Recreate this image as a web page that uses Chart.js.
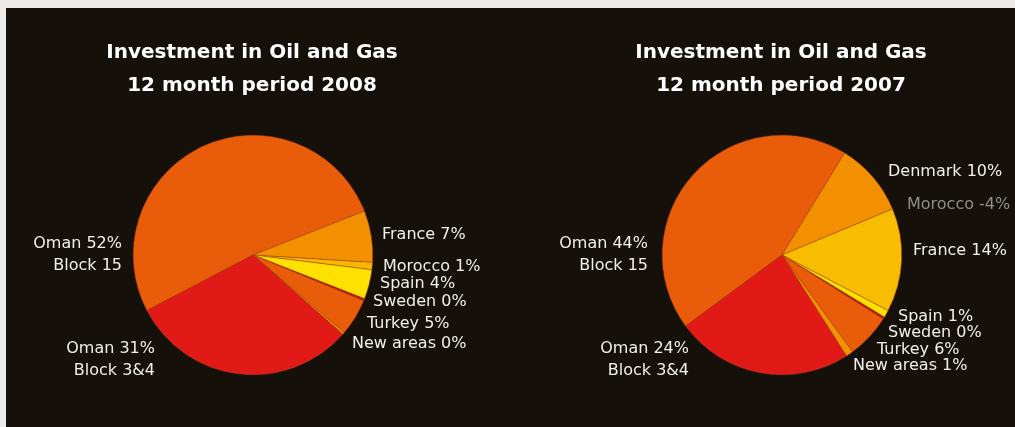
<!DOCTYPE html>
<html>
<head>
<meta charset="utf-8">
<script src="https://cdn.jsdelivr.net/npm/chart.js@4"></script>
<style>
  body { margin: 0; background: #ecebe8; width: 1015px; height: 427px; overflow: hidden; position: relative; }
  .panel { position: absolute; left: 6px; top: 8px; width: 1009px; height: 419px; background: #15110a; }
  canvas { position: absolute; top: 8px; }
  #pie2008 { left: 6px; }
  #pie2007 { left: 510px; }
</style>
</head>
<body>
<div class="panel"></div>
<canvas id="pie2008" width="504" height="419"></canvas>
<canvas id="pie2007" width="505" height="419"></canvas>
<script>
'use strict';

// 2008, clockwise from the Oman Block 15 slice
const names2008 = ['Oman', 'France', 'Morocco', 'Spain', 'Sweden', 'Turkey', 'New areas', 'Oman'];
const blocks2008 = ['Block 15', '', '', '', '', '', '', 'Block 3&4'];
const values2008 = [52, 7, 1, 4, 0.3, 5, 0.3, 31];

// 2007, Morocco was negative so it gets no slice
const names2007 = ['Oman', 'Denmark', 'Morocco', 'France', 'Spain', 'Sweden', 'Turkey', 'New areas', 'Oman'];
const blocks2007 = ['Block 15', '', '', '', '', '', '', '', 'Block 3&4'];
const values2007 = [44, 10, -4, 14, 1, 0.3, 6, 1, 24];

const colors2008 = ['#e85c0a', '#f29000', '#f7b600', '#ffe100', '#c2120a', '#e85c0a', '#f29000', '#e11a17'];
const colors2007 = ['#e85c0a', '#f29000', '#f7b600', '#f8bc00', '#ffe100', '#c2120a', '#e85c0a', '#f29000', '#e11a17'];

// label anchor offsets from the pie centre: [dx, dy of first baseline, align]
const place2008 = [[-131, -7, 'right'], [129, -16, 'left'], [130, 16, 'left'], [127, 33, 'left'], [120, 51, 'left'],
  [114, 73, 'left'], [99, 93, 'left'], [-98, 98, 'right']];
const place2007 = [[-134, -7, 'right'], [106, -79, 'left'], [125, -46, 'left'], [131, 0, 'left'], [116, 66, 'left'],
  [106, 82, 'left'], [95, 99, 'left'], [71, 115, 'left'], [-93, 98, 'right']];

// title lines + slice labels, both hung off the pie centre
const sliceLabels = {
  id: 'sliceLabels',
  afterDraw(chart, args, opts) {
    const ctx = chart.ctx;
    const arc = chart.getDatasetMeta(0).data[0];
    const cx = arc.x, cy = arc.y;
    ctx.save();
    ctx.textBaseline = 'alphabetic';

    ctx.font = 'bold 20px "DejaVu Sans"';
    ctx.textAlign = 'center';
    ctx.fillStyle = '#ffffff';
    ctx.fillText('Investment in Oil and Gas', cx - 1, cy - 197);
    ctx.fillText('12 month period ' + opts.year, cx - 1, cy - 164);

    ctx.font = '16px "DejaVu Sans"';
    opts.names.forEach((name, i) => {
      const v = opts.values[i];
      const p = opts.place[i];
      ctx.textAlign = p[2];
      ctx.fillStyle = v < 0 ? '#8e8e8b' : '#efefec';
      ctx.fillText(name + ' ' + Math.round(v) + '%', cx + p[0], cy + p[1]);
      if (opts.blocks[i]) ctx.fillText(opts.blocks[i], cx + p[0], cy + p[1] + 22);
    });
    ctx.restore();
  }
};

const makePie = function (id, year, names, blocks, values, colors, place, rotation, padding) {
  new Chart(document.getElementById(id), {
    type: 'pie',
    data: {
      labels: names,
      datasets: [{
        data: values.map((v) => Math.max(v, 0)),
        backgroundColor: colors,
        borderColor: '#a8420a',
        borderWidth: 0.5,
      }],
    },
    options: {
      responsive: false,
      animation: false,
      rotation: rotation,
      layout: { padding: padding },
      plugins: {
        legend: { display: false },
        tooltip: { enabled: false },
        title: { display: false },
        sliceLabels: { year: year, names: names, blocks: blocks, values: values, place: place },
      },
    },
    plugins: [sliceLabels],
  });
};

makePie('pie2008', 2008, names2008, blocks2008, values2008, colors2008, place2008, 242.4,
  { left: 127, right: 137, top: 127, bottom: 52 });
makePie('pie2007', 2007, names2007, blocks2007, values2007, colors2007, place2007, 233.6,
  { left: 152, right: 113, top: 127, bottom: 52 });
</script>
</body>
</html>
